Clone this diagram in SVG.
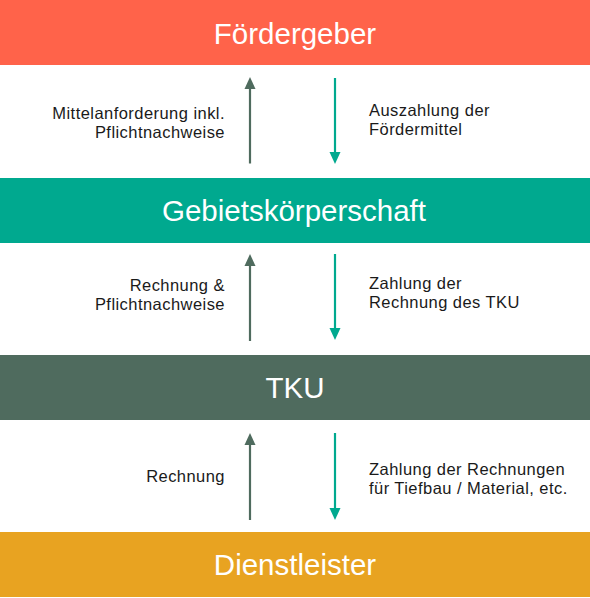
<svg xmlns="http://www.w3.org/2000/svg" width="590" height="598" viewBox="0 0 590 598">
  <defs>
    <style>
      .title { font-family: "Liberation Sans", Arial, sans-serif; font-size: 29.5px; fill: #ffffff; text-anchor: middle; }
      .lbl { font-family: "Liberation Sans", Arial, sans-serif; font-size: 16.5px; letter-spacing: 0.45px; fill: #1a1a1a; }
      .l { text-anchor: end; }
      .r { text-anchor: start; }
      .up { stroke: #4f6b5e; stroke-width: 2.2; fill: none; }
      .down { stroke: #00a98f; stroke-width: 2.2; fill: none; }
      .uph { fill: #4f6b5e; }
      .downh { fill: #00a98f; }
    </style>
  </defs>
  <rect width="590" height="598" fill="#ffffff"/>

  <g id="foerdergeber">
    <rect x="0" y="0" width="590" height="65" fill="#ff634a"/>
    <text class="title" x="295" y="43.5">Fördergeber</text>
  </g>
  <g id="gebietskoerperschaft">
    <rect x="0" y="178" width="590" height="65" fill="#00a98f"/>
    <text class="title" x="294" y="221">Gebietskörperschaft</text>
  </g>
  <g id="tku">
    <rect x="0" y="355" width="590" height="65" fill="#4f6b5e"/>
    <text class="title" x="295" y="398">TKU</text>
  </g>
  <g id="dienstleister">
    <rect x="0" y="532" width="590" height="65" fill="#e8a321"/>
    <text class="title" x="295" y="575">Dienstleister</text>
  </g>

  <g id="connectors">
    <line class="up" x1="250" y1="163.5" x2="250" y2="88"/>
    <polygon class="uph" points="244.5,89 250,77 255.5,89"/>
    <line class="down" x1="335" y1="78" x2="335" y2="153"/>
    <polygon class="downh" points="329.5,152 340.5,152 335,164"/>

    <line class="up" x1="250" y1="341" x2="250" y2="265"/>
    <polygon class="uph" points="244.5,266 250,254 255.5,266"/>
    <line class="down" x1="335" y1="254" x2="335" y2="329"/>
    <polygon class="downh" points="329.5,328 340.5,328 335,340"/>

    <line class="up" x1="250" y1="520" x2="250" y2="444"/>
    <polygon class="uph" points="244.5,445 250,433 255.5,445"/>
    <line class="down" x1="335" y1="433" x2="335" y2="509"/>
    <polygon class="downh" points="329.5,508 340.5,508 335,520"/>

    <text class="lbl l" x="225" y="119">Mittelanforderung inkl.</text>
    <text class="lbl l" x="225" y="138">Pflichtnachweise</text>
    <text class="lbl r" x="369" y="116">Auszahlung der</text>
    <text class="lbl r" x="369" y="135">Fördermittel</text>

    <text class="lbl l" x="225" y="291">Rechnung &amp;</text>
    <text class="lbl l" x="225" y="309.5">Pflichtnachweise</text>
    <text class="lbl r" x="369" y="288.5">Zahlung der</text>
    <text class="lbl r" x="369" y="308">Rechnung des TKU</text>

    <text class="lbl l" x="225" y="482">Rechnung</text>
    <text class="lbl r" x="369" y="475">Zahlung der Rechnungen</text>
    <text class="lbl r" x="369" y="494">für Tiefbau / Material, etc.</text>
  </g>
</svg>
